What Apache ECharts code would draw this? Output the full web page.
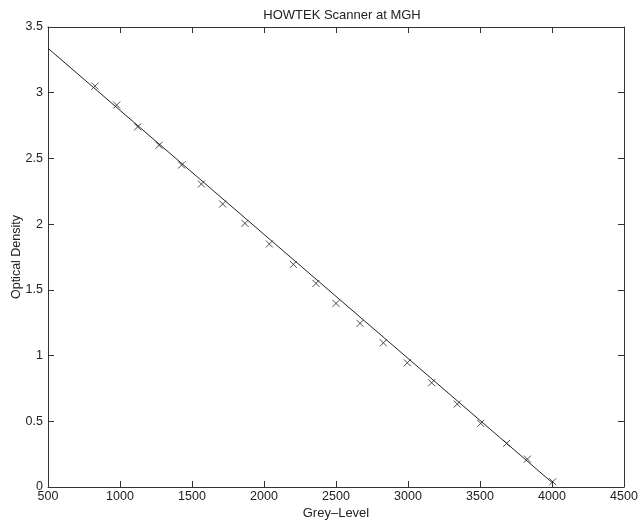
<!DOCTYPE html>
<html>
<head>
<meta charset="utf-8">
<script src="https://cdn.jsdelivr.net/npm/echarts@6/dist/echarts.min.js"></script>
<style>
  html, body { margin: 0; padding: 0; background: #fff; }
  #chart { width: 639px; height: 522px; }
</style>
</head>
<body>
<div id="chart"></div>
<script>
// measured points (grey level, optical density)
var greyLevel = [826, 977, 1123, 1271, 1428, 1565, 1713, 1868, 2037, 2204, 2361,
                 2500, 2667, 2829, 2995, 3164, 3342, 3505, 3685, 3829, 4005];
var density = [3.05, 2.906, 2.74, 2.60, 2.45, 2.305, 2.153, 2.006, 1.849, 1.694, 1.549,
               1.397, 1.245, 1.097, 0.945, 0.793, 0.631, 0.484, 0.332, 0.212, 0.04];
// fitted line end points
var fitX = [500, 4005];
var fitY = [3.338, 0.03];

var xTicks = [500, 1000, 1500, 2000, 2500, 3000, 3500, 4000, 4500];
var yTicks = [0, 0.5, 1, 1.5, 2, 2.5, 3, 3.5];

var pts = [];
for (var i = 0; i < greyLevel.length; i++) pts.push([greyLevel[i], density[i]]);
var fit = [];
for (var j = 0; j < fitX.length; j++) fit.push([fitX[j], fitY[j]]);

var font = 'Liberation Sans, Arial, sans-serif';
var axisCol = '#333';

function xAxisDef(pos, showLabel) {
    return {
        type: 'value', position: pos,
        min: xTicks[0], max: xTicks[xTicks.length - 1], interval: 500,
        axisLine: { show: true, onZero: false, lineStyle: { color: axisCol, width: 1 } },
        axisTick: { show: true, inside: true, length: 6, lineStyle: { color: axisCol } },
        splitLine: { show: false },
        axisLabel: { show: showLabel, color: '#222', fontFamily: font, fontSize: 12.5, margin: 3,
                     formatter: function (v) { return String(v); } },
        name: showLabel ? 'Grey\u2013Level' : '',
        nameLocation: 'middle', nameGap: 20, nameMoveOverlap: false,
        nameTextStyle: { color: '#222', fontFamily: font, fontSize: 13 }
    };
}
function yAxisDef(pos, showLabel) {
    return {
        type: 'value', position: pos,
        min: yTicks[0], max: yTicks[yTicks.length - 1], interval: 0.5,
        axisLine: { show: true, onZero: false, lineStyle: { color: axisCol, width: 1 } },
        axisTick: { show: true, inside: true, length: 6, lineStyle: { color: axisCol } },
        splitLine: { show: false },
        axisLabel: { show: showLabel, color: '#222', fontFamily: font, fontSize: 12.5, margin: 5 },
        name: showLabel ? 'Optical Density' : '',
        nameLocation: 'middle', nameGap: 25, nameMoveOverlap: false,
        nameTextStyle: { color: '#222', fontFamily: font, fontSize: 12.5 }
    };
}

var chart = echarts.init(document.getElementById('chart'), null, { renderer: 'canvas' });
chart.setOption({
    backgroundColor: '#fff',
    animation: false,
    title: {
        text: 'HOWTEK Scanner at MGH',
        left: 337, top: 4, textAlign: 'center',
        textStyle: { color: '#222', fontFamily: font, fontSize: 13, fontWeight: 'normal' }
    },
    grid: { left: 48, right: 15, top: 27, bottom: 35, outerBoundsMode: 'none' },
    xAxis: [xAxisDef('bottom', true), xAxisDef('top', false)],
    yAxis: [yAxisDef('left', true), yAxisDef('right', false)],
    series: [
        {
            type: 'line', data: fit, xAxisIndex: 0, yAxisIndex: 0,
            showSymbol: false, symbol: 'none',
            lineStyle: { color: '#222', width: 1 }
        },
        {
            type: 'scatter', data: pts, xAxisIndex: 0, yAxisIndex: 0,
            symbol: 'path://M0,0L10,10M10,0L0,10', symbolSize: 7,
            itemStyle: { color: 'none', borderColor: '#222', borderWidth: 1 }
        }
    ]
});
</script>
</body>
</html>
